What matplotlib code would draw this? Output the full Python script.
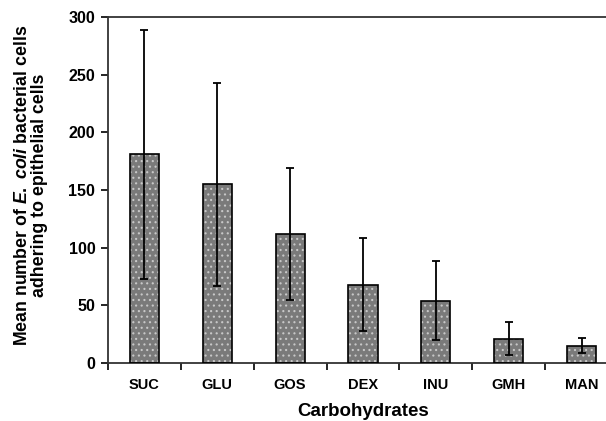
import numpy as np
import matplotlib.pyplot as plt

# datos
carbohidratos = ["SUC", "GLU", "GOS", "DEX", "INU", "GMH", "MAN"]
media = [181, 155, 112, 68, 54, 21, 15]
desv = [108, 88, 57, 40, 34, 14.5, 6.5]

plt.rcParams['font.family'] = 'Liberation Sans'
plt.rcParams['mathtext.fontset'] = 'custom'
plt.rcParams['mathtext.rm'] = 'Liberation Sans:bold'
plt.rcParams['mathtext.it'] = 'Liberation Sans:italic:bold'
plt.rcParams['hatch.linewidth'] = 0.8

fig = plt.figure(figsize=(6.06, 4.21), dpi=100)
ax = fig.add_axes([0.178, 0.1378, 0.842, 0.8218])

x = np.arange(len(carbohidratos))
# relleno gris con puntos claros
ax.bar(x, media, width=0.4, color='#7a7a7a', edgecolor='#c8c8c8',
       hatch='...', linewidth=0, zorder=2)
# contorno negro
ax.bar(x, media, width=0.4, color='none', edgecolor='black',
       linewidth=1.2, zorder=3)
ax.errorbar(x, media, yerr=desv, fmt='none', ecolor='black',
            elinewidth=1.3, capsize=3, capthick=1.3, zorder=4)

ax.set_xlim(-0.5, len(carbohidratos) - 0.5)
ax.set_ylim(0, 300)
ax.set_yticks(np.arange(0, 301, 50))
ax.set_xticks(x)
ax.set_xticklabels(carbohidratos, fontsize=10.5, fontweight='bold')
ax.set_xticks(np.arange(-0.5, len(carbohidratos), 1), minor=True)
ax.tick_params(axis='x', which='major', length=0, pad=11)
ax.tick_params(axis='x', which='minor', length=5, width=1.2, direction='out')
ax.tick_params(axis='y', length=5, width=1.2, direction='out', labelsize=11.5, pad=4)
for lbl in ax.get_yticklabels():
    lbl.set_fontweight('bold')

for s in ['left', 'bottom', 'top']:
    ax.spines[s].set_linewidth(1.3)
    ax.spines[s].set_color('#333333')
ax.spines['right'].set_visible(False)

ax.set_xlabel('Carbohydrates', fontsize=13.5, fontweight='bold', labelpad=8)
ax.set_ylabel('Mean number of $E.\\ coli$ bacterial cells\nadhering to epithelial cells',
              fontsize=12.8, fontweight='bold', linespacing=1.0)
ax.yaxis.set_label_coords(-0.117, 0.514)

plt.savefig('out.png', dpi=100)
plt.close()
